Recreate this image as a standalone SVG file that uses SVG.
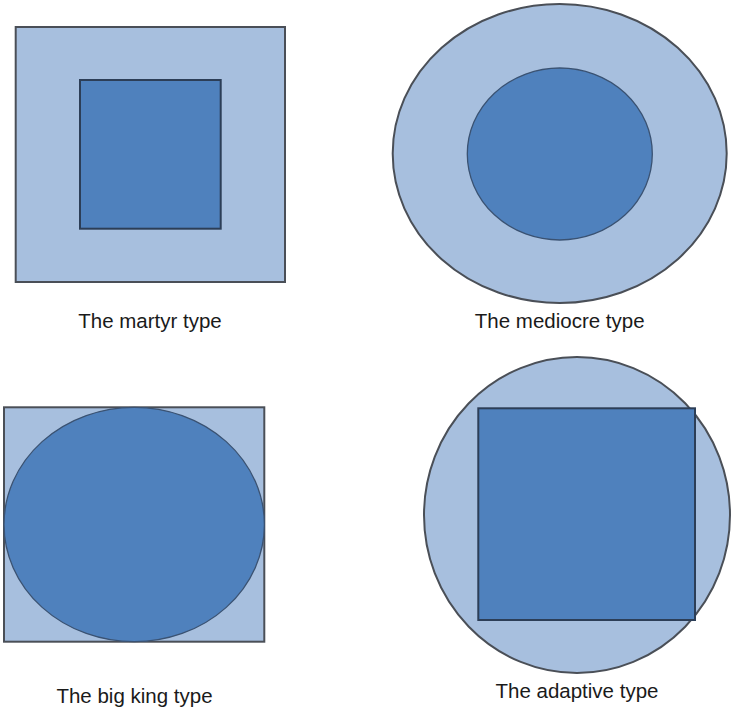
<svg xmlns="http://www.w3.org/2000/svg" width="731" height="713" viewBox="0 0 731 713">
<style>
.outer{fill:#A7BFDE;stroke:#4a4f57;stroke-width:2}
.inner{fill:#4F81BD;stroke:#2c3e57;stroke-width:2}
.innerSoft{fill:#4F81BD;stroke:#3a5272;stroke-width:1.3}
.lbl{font-family:"Liberation Sans",Arial,sans-serif;font-size:20.5px;fill:#1a1a1a;text-anchor:middle}
</style>
<rect width="731" height="713" fill="#ffffff"/>
<g id="martyr">
<rect class="outer" x="15.7" y="27" width="269.3" height="255"/>
<rect class="inner" x="80" y="80" width="140.7" height="148.7"/>
<text class="lbl" x="150" y="327.5">The martyr type</text>
</g>
<g id="mediocre">
<ellipse class="outer" cx="559.7" cy="153.5" rx="167" ry="149.5"/>
<ellipse class="innerSoft" cx="559.8" cy="154" rx="92.5" ry="86"/>
<text class="lbl" x="559.7" y="327.5">The mediocre type</text>
</g>
<g id="bigking">
<rect class="outer" x="4" y="407.3" width="260.3" height="234.4"/>
<ellipse class="innerSoft" cx="134.2" cy="524.5" rx="130.2" ry="117.2"/>
<text class="lbl" x="134.5" y="703">The big king type</text>
</g>
<g id="adaptive">
<ellipse class="outer" cx="577" cy="515" rx="153" ry="158"/>
<rect class="inner" x="478.3" y="408.3" width="216.7" height="211.7"/>
<text class="lbl" x="577" y="698">The adaptive type</text>
</g>
<g id="connectors"></g>
</svg>
